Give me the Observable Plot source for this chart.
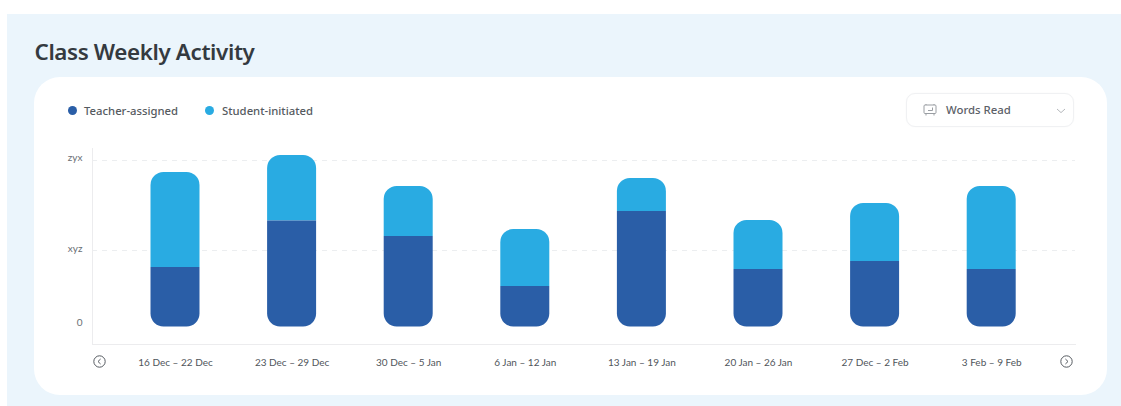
<!DOCTYPE html>
<html>
<head>
<meta charset="utf-8">
<script src="https://cdn.jsdelivr.net/npm/d3@7"></script>
<script src="https://cdn.jsdelivr.net/npm/@observablehq/plot@0.6"></script>
<style>
  html,body{margin:0;padding:0;background:#fff;width:1121px;height:406px;overflow:hidden;font-family:"Noto Sans",sans-serif}
  #panel{position:absolute;left:7px;top:14px;width:1114px;height:392px;background:#ebf5fc}
  #card{position:absolute;left:34px;top:77px;width:1073px;height:318px;background:#fff;border-radius:26px}
  #title{position:absolute;left:34.5px;top:36px;font:600 22.4px/32px "Noto Sans",sans-serif;color:#343a40;letter-spacing:-.38px;white-space:nowrap}
  .leg{position:absolute;top:102px;font:500 11.3px/17px "Noto Sans",sans-serif;color:#555a60;white-space:nowrap}
  .dot{position:absolute;top:106px;width:9px;height:9px;border-radius:50%}
  #drop{position:absolute;left:906px;top:93px;width:166px;height:32px;border:1px solid #f0f1f3;border-radius:9px;background:#fff;box-shadow:0 0 2px rgba(0,0,0,.03)}
  #dropt{position:absolute;left:946px;top:101px;font:500 11.4px/18px "Noto Sans",sans-serif;color:#5c6168;white-space:nowrap}
  svg.ic{position:absolute;overflow:visible}
  #chart{position:absolute;left:0;top:0}
  #chart svg{background:transparent!important;display:block}
  #chart svg text{font-family:Lato,sans-serif}
</style>
</head>
<body>
<div id="panel"></div>
<div id="card"></div>
<div id="title">Class Weekly Activity</div>
<span class="dot" style="left:68px;background:#2a5ea7"></span>
<span class="leg" style="left:84px">Teacher-assigned</span>
<span class="dot" style="left:205px;background:#29abe2"></span>
<span class="leg" style="left:222px">Student-initiated</span>
<div id="drop"></div>
<svg class="ic" style="left:923px;top:103px" width="14" height="14" viewBox="0 0 14 14" fill="none" stroke="#9a9ea3" stroke-width="1">
  <rect x="1" y="2" width="12" height="8.5" rx="1"/><path d="M3 1v1M11 1v1M3 10.5v2M11 10.5v2M5 7.5h4.5M9.5 4.5v3"/>
</svg>
<div id="dropt">Words Read</div>
<svg class="ic" style="left:1056px;top:108px" width="10" height="6" fill="none" stroke="#b5b8bc" stroke-width="1"><path d="M1 1l4 3.6L9 1"/></svg>
<svg class="ic" style="left:93px;top:355px" width="13" height="13" fill="none" stroke="#555a60" stroke-width="1"><circle cx="6.5" cy="6.5" r="5.7"/><path d="M7.6 4L5 6.5l2.6 2.5"/></svg>
<svg class="ic" style="left:1060px;top:355px" width="13" height="13" fill="none" stroke="#555a60" stroke-width="1"><circle cx="6.5" cy="6.5" r="5.7"/><path d="M5.4 4L8 6.5 5.4 9"/></svg>
<div id="chart"></div>
<script>
const weeks = ["16 Dec – 22 Dec","23 Dec – 29 Dec","30 Dec – 5 Jan","6 Jan – 12 Jan","13 Jan – 19 Jan","20 Jan – 26 Jan","27 Dec – 2 Feb","3 Feb – 9 Feb"];
const teacherAssigned = [59.5,106,90.5,40.5,115.5,57.5,65.5,57.5];
const studentInitiated = [95,65.5,50,57,33,49,58,83];
const gridValues = [76.5,166.5];
const tickPositions = [4.5,78.5,169.5];
const tickLabels = ["0","xyz","zyx"];
const teacherColor = "#2a5ea7", studentColor = "#29abe2";

const rows = weeks.map((week,i)=>({week,teacher:teacherAssigned[i],total:teacherAssigned[i]+studentInitiated[i]}));
const barOpts = {x:"week",insetLeft:33.8,insetRight:33.8};

const chart = Plot.plot({
  width:1121,height:406,
  marginLeft:92,marginRight:46,marginTop:148,marginBottom:62,
  style:{background:"transparent"},
  x:{domain:weeks,range:[116.7,1049.5],padding:0,round:false,label:null},
  y:{domain:[-17.5,178.5],label:null},
  marks:[
    Plot.ruleY(gridValues,{stroke:"#eceef0",strokeDasharray:"5,5",strokeWidth:1}),
    Plot.frame({anchor:"left",stroke:"#ececee"}),
    Plot.frame({anchor:"bottom",stroke:"#ececee"}),
    Plot.barY(rows,{...barOpts,y1:"teacher",y2:"total",fill:studentColor,rx1y1:13,rx2y1:13}),
    Plot.barY(rows,{...barOpts,y1:0,y2:"teacher",fill:teacherColor,rx1y2:13,rx2y2:13}),
    Plot.axisX({domain:weeks,anchor:"bottom",tickSize:0,tickPadding:14,fontSize:10,color:"#50555b",label:null}),
    Plot.axisY({ticks:tickPositions,tickFormat:(d,i)=>tickLabels[i],anchor:"left",tickSize:0,tickPadding:10,fontSize:10,color:"#6a6e74",label:null})
  ]
});
document.getElementById("chart").append(chart);
</script>
</body>
</html>
